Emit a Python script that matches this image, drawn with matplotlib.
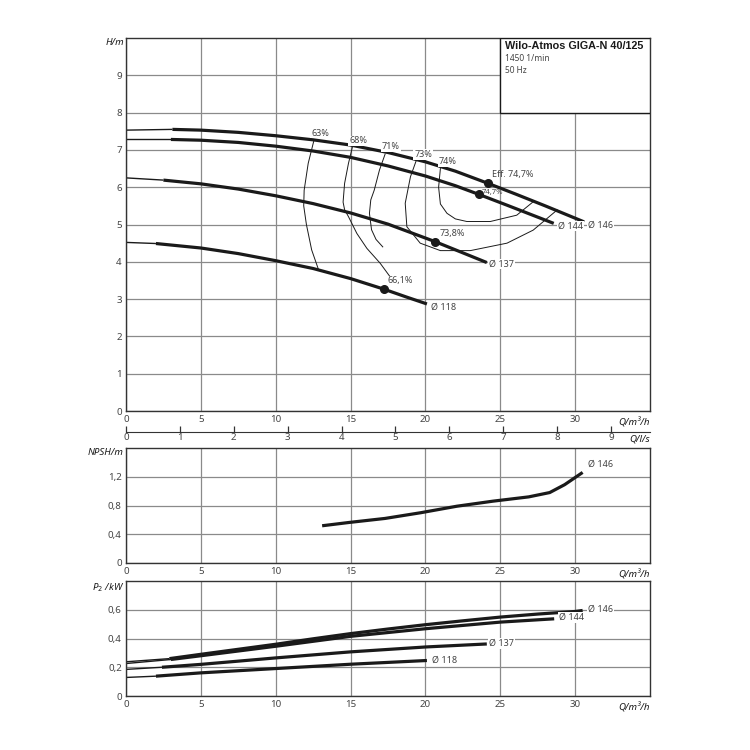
import matplotlib
matplotlib.use("Agg")
import matplotlib.pyplot as plt
from matplotlib.patches import Rectangle

plt.rcParams['font.family'] = ['Noto Sans', 'DejaVu Sans']

# head curves  Q [m3/h] -> H [m]; first segment is the thin run-in
q146 = [0, 3.1, 5, 7.5, 10, 12.5, 15, 17.5, 20, 22, 24.2, 26, 28, 30.6]
h146 = [7.53, 7.55, 7.53, 7.47, 7.38, 7.27, 7.13, 6.93, 6.68, 6.43, 6.1, 5.82, 5.5, 5.07]
q144 = [0, 3.0, 5, 7.5, 10, 12.5, 15, 17.5, 20, 22, 23.55, 25.5, 28.57]
h144 = [7.28, 7.28, 7.26, 7.2, 7.1, 6.97, 6.8, 6.57, 6.3, 6.04, 5.81, 5.51, 5.03]
q137 = [0, 2.5, 5, 7.5, 10, 12.5, 15, 17.5, 20.65, 22.5, 24.1]
h137 = [6.25, 6.19, 6.09, 5.95, 5.77, 5.56, 5.31, 5.01, 4.54, 4.24, 3.98]
q118 = [0, 2, 5, 7.5, 10, 12.5, 15, 17.2, 18.7, 20.1]
h118 = [4.52, 4.49, 4.37, 4.22, 4.03, 3.82, 3.55, 3.27, 3.06, 2.87]
diam_names = ["Ø 146", "Ø 144", "Ø 137", "Ø 118"]

# efficiency iso-lines
eff63_q = [12.55, 12.17, 11.9, 11.87, 12.05, 12.4, 12.85]
eff63_h = [7.25, 6.64, 5.92, 5.5, 5.0, 4.32, 3.8]
eff68_q = [15.13, 14.86, 14.6, 14.5, 14.6, 14.86, 15.42, 16.09, 16.98, 17.6]
eff68_h = [7.09, 6.64, 6.1, 5.6, 5.4, 5.21, 4.76, 4.36, 3.96, 3.62]
eff71_q = [17.31, 16.93, 16.58, 16.35, 16.26, 16.4, 16.7, 17.15]
eff71_h = [6.89, 6.46, 5.92, 5.66, 5.3, 4.86, 4.6, 4.4]
eff73_q = [19.4, 19.0, 18.65, 18.76, 19.65, 21.0, 23.0, 25.45, 27.2, 28.8]
eff73_h = [6.73, 6.28, 5.57, 4.94, 4.5, 4.3, 4.3, 4.5, 4.85, 5.39]
eff74_q = [21.0, 20.88, 21.0, 21.44, 22.0, 22.77, 24.33, 26.1, 27.2]
eff74_h = [6.5, 6.0, 5.55, 5.3, 5.15, 5.08, 5.08, 5.25, 5.61]
eff_names = ["63%", "68%", "71%", "73%", "74%"]

# best efficiency points
bep_q = [24.18, 23.55, 20.65, 17.2]
bep_h = [6.1, 5.81, 4.54, 3.27]
bep_names = ["Eff. 74,7%", "74,7%", "73,8%", "66,1%"]

# NPSH, diameter 146
npsh_q = [13.1, 14.9, 17.3, 19.7, 22.1, 24.5, 26.9, 28.3, 29.3, 30.5]
npsh_v = [0.518, 0.564, 0.62, 0.70, 0.79, 0.86, 0.92, 0.98, 1.09, 1.26]

# shaft power P2 [kW]
pq146 = [0, 2.9, 5, 7.5, 10, 12.5, 15, 17.5, 20, 22.5, 25, 27.5, 30, 30.5]
p146 = [0.238, 0.26, 0.29, 0.325, 0.36, 0.398, 0.434, 0.466, 0.496, 0.523, 0.549, 0.57, 0.588, 0.595]
pq144 = [0, 3, 5, 10, 15, 20, 25, 28.6]
p144 = [0.226, 0.254, 0.28, 0.346, 0.415, 0.468, 0.514, 0.537]
pq137 = [0, 2.4, 5, 10, 15, 20, 24.1]
p137 = [0.185, 0.2, 0.22, 0.265, 0.307, 0.341, 0.362]
pq118 = [0, 2, 5, 10, 15, 20.1]
p118 = [0.129, 0.138, 0.161, 0.191, 0.221, 0.247]

q_ticks = [0, 5, 10, 15, 20, 25, 30]
h_ticks = list(range(10))
npsh_ticks = [0, 0.4, 0.8, 1.2]
npsh_labels = ["0", "0,4", "0,8", "1,2"]
p_ticks = [0, 0.2, 0.4, 0.6]
p_labels = ["0", "0,2", "0,4", "0,6"]
ls_ticks = list(range(10))

INK = "#1a1a1a"
GRID = "#8a8a8a"
TICK = "#444444"
FS = 7

fig = plt.figure(figsize=(7.5, 7.5), dpi=100)
L, W = 126 / 750, 524 / 750


def setup(ax, ymax, yt, ylab=None):
    ax.set_xlim(0, 35)
    ax.set_ylim(0, ymax)
    ax.set_xticks(q_ticks)
    ax.set_yticks(yt)
    if ylab is not None:
        ax.set_yticklabels(ylab)
    ax.tick_params(length=0, labelsize=FS, labelcolor=TICK, pad=3)
    ax.grid(True, color=GRID, lw=0.9)
    ax.set_axisbelow(True)
    for s in ax.spines.values():
        s.set_color("#333333")
        s.set_linewidth(1.0)


def corner_label(ax, txt):
    ax.text(-0.004, 1.0, txt, transform=ax.transAxes, ha="right", va="top",
            fontsize=FS, fontweight="bold", style="italic", color=INK)


def q_label(ax):
    ax.annotate("Q/m³/h", xy=(1, 0), xycoords="axes fraction", xytext=(0, -8),
                textcoords="offset points", ha="right", va="center",
                fontsize=FS, fontweight="bold", style="italic", color=INK)


def curve(ax, q, y):
    ax.plot(q[:2], y[:2], color=INK, lw=1.0, solid_capstyle="butt")
    ax.plot(q[1:], y[1:], color=INK, lw=2.3, solid_capstyle="butt")


lbl_box = dict(facecolor="white", edgecolor="none", pad=0.6)

# ---- head chart
ax = fig.add_axes([L, 1 - 411 / 750, W, 373 / 750])
setup(ax, 10, h_ticks)
corner_label(ax, "H/m")
q_label(ax)

for q, h in [(q146, h146), (q144, h144), (q137, h137), (q118, h118)]:
    curve(ax, q, h)

for q, h in [(eff63_q, eff63_h), (eff68_q, eff68_h), (eff71_q, eff71_h),
             (eff73_q, eff73_h), (eff74_q, eff74_h)]:
    ax.plot(q, h, color=INK, lw=0.7)

ax.plot(bep_q, bep_h, "o", color=INK, ms=5.5, ls="none")

eff_pos = [(12.97, 7.45), (15.5, 7.24), (17.7, 7.08), (19.85, 6.87), (21.5, 6.68)]
for name, (x, y) in zip(eff_names, eff_pos):
    ax.text(x, y, name, ha="center", va="center", fontsize=6.5, color=TICK, bbox=lbl_box)

bep_pos = [(24.45, 6.33), (23.75, 5.87), (20.95, 4.75), (17.5, 3.49)]
for name, (x, y), fs in zip(bep_names, bep_pos, [6.5, 5.5, 6.5, 6.5]):
    ax.text(x, y, name, ha="left", va="center", fontsize=fs, color=TICK)

end_pos = [(30.85, 4.99), (28.85, 4.96), (24.25, 3.94), (20.35, 2.79)]
for name, (x, y) in zip(diam_names, end_pos):
    ax.text(x, y, name, ha="left", va="center", fontsize=6.5, color=TICK, bbox=lbl_box)

ax.add_patch(Rectangle((25, 8), 10, 2, facecolor="white", edgecolor=INK, lw=1.0, zorder=3))
ax.text(25.3, 9.78, "Wilo-Atmos GIGA-N 40/125", ha="left", va="center",
        fontsize=7.8, fontweight="bold", family=["Liberation Sans", "DejaVu Sans"],
        color=INK, zorder=4)
ax.text(25.3, 9.44, "1450 1/min", ha="left", va="center", fontsize=6, color=TICK, zorder=4)
ax.text(25.3, 9.14, "50 Hz", ha="left", va="center", fontsize=6, color=TICK, zorder=4)

# ---- secondary flow scale in l/s
axs = fig.add_axes([L, 1 - 432 / 750, W, 0.0001])
axs.set_xlim(0, 35 / 3.6)
axs.set_xticks(ls_ticks)
axs.set_yticks([])
for k in ["top", "left", "right"]:
    axs.spines[k].set_visible(False)
axs.spines["bottom"].set_color("#333333")
axs.patch.set_alpha(0)
axs.tick_params(axis="x", direction="in", length=4, width=0.9, color="#333333",
                labelsize=FS, labelcolor=TICK, pad=1)
axs.annotate("Q/l/s", xy=(1, 0), xycoords="axes fraction", xytext=(0, -5),
             textcoords="offset points", ha="right", va="center",
             fontsize=FS, fontweight="bold", style="italic", color=INK)

# ---- NPSH chart
axn = fig.add_axes([L, 1 - 563 / 750, W, 115 / 750])
setup(axn, 1.6, npsh_ticks, npsh_labels)
corner_label(axn, "NPSH/m")
q_label(axn)
axn.plot(npsh_q, npsh_v, color=INK, lw=2.3, solid_capstyle="butt")
axn.text(30.85, 1.37, "Ø 146", ha="left", va="center", fontsize=6.5, color=TICK)

# ---- power chart
axp = fig.add_axes([L, 1 - 696 / 750, W, 115 / 750])
setup(axp, 0.8, p_ticks, p_labels)
corner_label(axp, "P$_2$ /kW")
q_label(axp)
for q, p in [(pq146, p146), (pq144, p144), (pq137, p137), (pq118, p118)]:
    curve(axp, q, p)
p_end = [(30.85, 0.6), (28.9, 0.544), (24.25, 0.364), (20.45, 0.249)]
for name, (x, y) in zip(diam_names, p_end):
    axp.text(x, y, name, ha="left", va="center", fontsize=6.5, color=TICK, bbox=lbl_box)

fig.savefig("out.png", dpi=100, facecolor="white")
